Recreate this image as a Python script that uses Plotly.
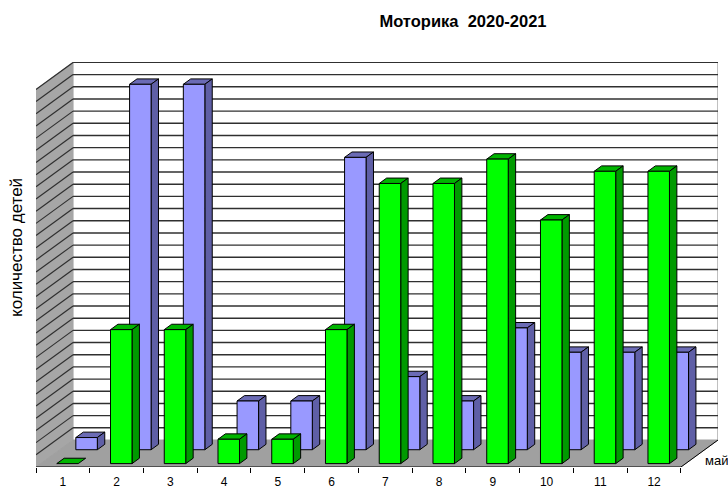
import plotly.graph_objects as go

categories = ["1", "2", "3", "4", "5", "6", "7", "8", "9", "10", "11", "12"]
series_back = [1, 30, 30, 4, 4, 24, 6, 4, 10, 8, 8, 8]
series_front = [0, 11, 11, 2, 2, 11, 23, 23, 25, 20, 24, 24]
grid_max = 31
title = "Моторика  2020-2021"
y_title = "количество детей"
depth_label = "май"

# oblique projection of the 3-D box: depth 0..1 shifts points right and up
DX = 37 / 53.67
DY = 27 / 12.18
FONT = "Liberation Sans, Arial, sans-serif"
N = len(categories)


def proj(x, v, d):
    return x + d * DX, v + d * DY


fig = go.Figure()


def poly(points, fill, line="#000000", width=1):
    xs, ys = zip(*[proj(*p) for p in points])
    fig.add_trace(go.Scatter(
        x=list(xs) + [xs[0]], y=list(ys) + [ys[0]], mode="lines", fill="toself",
        fillcolor=fill, line=dict(color=line, width=width), hoverinfo="skip",
        showlegend=False, cliponaxis=False))


def seg(a, b, color="#000000", width=1):
    xs, ys = zip(proj(*a), proj(*b))
    fig.add_trace(go.Scatter(
        x=list(xs), y=list(ys), mode="lines", line=dict(color=color, width=width),
        hoverinfo="skip", showlegend=False, cliponaxis=False))


L, R = 0.5, N + 0.5
# walls and floor
poly([(L, 0, 1), (R, 0, 1), (R, grid_max, 1), (L, grid_max, 1)], "#ffffff", "#ffffff", 0)
poly([(L, 0, 0), (L, 0, 1), (L, grid_max, 1), (L, grid_max, 0)], "#a6a6a6", "#a6a6a6", 1)
poly([(L, 0, 0), (R, 0, 0), (R, 0, 1), (L, 0, 1)], "#a0a0a0", "#a0a0a0", 1)
seg((R, 0, 1), (R, grid_max, 1), "#c0c0c0", 2)
for v in range(1, grid_max + 1):
    seg((L, v, 1), (R, v, 1), "#303030", 1.4)
    seg((L, v, 0), (L, v, 1), "#303030", 1.2)
seg((L, 0, 0), (R, 0, 0))
seg((R, 0, 0), (R, 0, 1))


def bar(cat, value, d0, d1, front, side, top, hw=0.2):
    x0, x1 = cat - hw, cat + hw
    poly([(x0, value, d0), (x1, value, d0), (x1, value, d1), (x0, value, d1)], top)
    if value > 0:
        poly([(x1, 0, d0), (x1, 0, d1), (x1, value, d1), (x1, value, d0)], side)
        poly([(x0, 0, d0), (x1, 0, d0), (x1, value, d0), (x0, value, d0)], front)


for i, value in enumerate(series_back):
    bar(i + 1, value, 0.64, 0.84, "#9999ff", "#5f5fa6", "#6b6bb5")
for i, value in enumerate(series_front):
    bar(i + 1, value, 0.125, 0.325, "#00ff00", "#009a00", "#00b400")

xd, yd = proj(R, 0, 0.62)
fig.add_annotation(x=xd, y=yd, text=depth_label, showarrow=False, xanchor="left",
                   yanchor="middle", xshift=-1, yshift=-10.5,
                   font=dict(family=FONT, size=13, color="#000000"))
fig.add_annotation(xref="paper", yref="paper", x=-20 / 682, y=(467 - 248) / 405, text=y_title,
                   textangle=-90, showarrow=False, xanchor="center", yanchor="middle",
                   font=dict(family=FONT, size=17, color="#000000"))

fig.update_layout(
    width=728, height=490, margin=dict(l=36, r=10, t=62, b=23, autoexpand=False),
    paper_bgcolor="#ffffff", plot_bgcolor="#ffffff", showlegend=False,
    title=dict(text=title, x=463 / 728, xanchor="center", y=1 - 21 / 490, yanchor="middle",
               font=dict(family=FONT, size=16.5, color="#000000", weight="bold")),
    xaxis=dict(range=[L, R + DX], showgrid=False, zeroline=False, showline=False,
               automargin=False, ticklabelstandoff=4,
               tickmode="array", tickvals=list(range(1, N + 1)), ticktext=categories,
               ticks="outside", ticklen=0, tickfont=dict(family=FONT, size=12, color="#000000"),
               minor=dict(tickmode="array", tickvals=[L + k for k in range(N + 1)],
                          ticks="outside", ticklen=5, tickcolor="#000000", tickwidth=1,
                          showgrid=False)),
    yaxis=dict(range=[0, 33.25], showgrid=False, zeroline=False, showline=False,
               showticklabels=False, ticks="", automargin=False),
)

fig.write_html("out.html", config=dict(displayModeBar=False),
               post_script="document.body.style.margin='0';")
